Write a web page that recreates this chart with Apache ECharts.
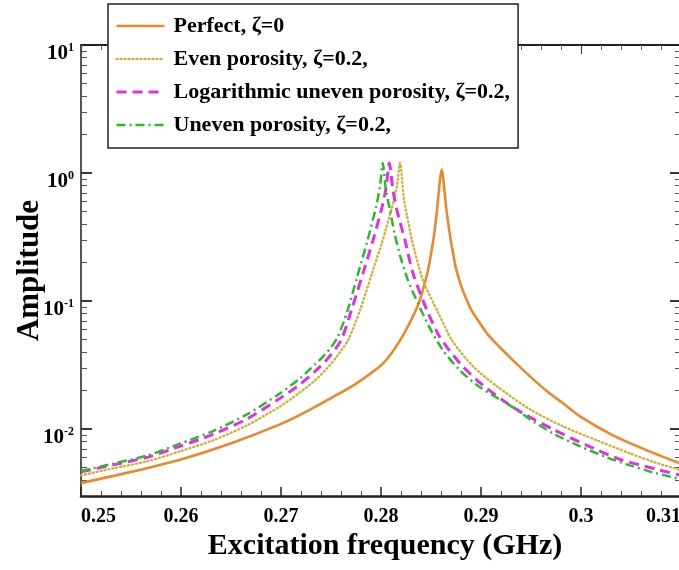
<!DOCTYPE html>
<html><head><meta charset="utf-8">
<script src="https://cdn.jsdelivr.net/npm/echarts@6/dist/echarts.min.js"></script>
<style>html,body{margin:0;padding:0;background:#fff}#c{width:679px;height:570px}</style>
</head><body><div id="c"></div>
<script>
const seriesNames = ['Perfect, ζ=0', 'Even porosity, ζ=0.2,', 'Logarithmic uneven porosity, ζ=0.2,', 'Uneven porosity, ζ=0.2,'];

const perfectFreq = [0.2500, 0.2549, 0.2599, 0.2649, 0.2699, 0.2724, 0.2749, 0.2774, 0.2799, 0.2809, 0.2819, 0.2828, 0.2837, 0.2842, 0.2847, 0.2853, 0.2856, 0.28607, 0.28655, 0.2869, 0.2872, 0.2875, 0.2880, 0.2885, 0.28905, 0.2897, 0.2906, 0.2915, 0.2932, 0.2949, 0.2966, 0.2982, 0.2999, 0.3032, 0.3066, 0.3100];
const perfectAmp = [0.00379, 0.00461, 0.00577, 0.00769, 0.01088, 0.01351, 0.01728, 0.02235, 0.0309, 0.0377, 0.0493, 0.0658, 0.0926, 0.1234, 0.1737, 0.326, 0.511, 1.063, 0.511, 0.326, 0.238, 0.180, 0.1327, 0.105, 0.0846, 0.0707, 0.0559, 0.0467, 0.0344, 0.0258, 0.0197, 0.0159, 0.01257, 0.00893, 0.00682, 0.00536];

const evenFreq = [0.2500, 0.2532, 0.2566, 0.2599, 0.2632, 0.2666, 0.2699, 0.2719, 0.2734, 0.2746, 0.2756, 0.2767, 0.2779, 0.2791, 0.2801, 0.2811, 0.2816, 0.2819, 0.2823, 0.2826, 0.2831, 0.2842, 0.2857, 0.2871, 0.2892, 0.2916, 0.2949, 0.2982, 0.3016, 0.3049, 0.3074, 0.3100];
const evenAmp = [0.00435, 0.00493, 0.00559, 0.00670, 0.00816, 0.01069, 0.01504, 0.01935, 0.0240, 0.0298, 0.0370, 0.0493, 0.0846, 0.1646, 0.287, 0.540, 0.801, 1.197, 0.612, 0.467, 0.298, 0.1451, 0.0816, 0.0493, 0.0309, 0.02156, 0.01425, 0.01050, 0.00816, 0.00646, 0.00549, 0.00476];

const logFreq = [0.2500, 0.2532, 0.2566, 0.2599, 0.2632, 0.2666, 0.2699, 0.2719, 0.2734, 0.2746, 0.2760, 0.2771, 0.2782, 0.2792, 0.2801, 0.2805, 0.28083, 0.2812, 0.2816, 0.2824, 0.2832, 0.2846, 0.2859, 0.2879, 0.2896, 0.2922, 0.2942, 0.2972, 0.3006, 0.3039, 0.3076, 0.3100];
const logAmp = [0.00463, 0.00525, 0.00601, 0.00733, 0.00909, 0.0120, 0.01737, 0.02235, 0.0282, 0.0350, 0.0493, 0.0877, 0.1646, 0.298, 0.540, 0.759, 1.197, 0.733, 0.511, 0.298, 0.1646, 0.0846, 0.0520, 0.0326, 0.0240, 0.01676, 0.01327, 0.00995, 0.00746, 0.00580, 0.00484, 0.00435];

const unevenFreq = [0.2500, 0.2532, 0.2566, 0.2599, 0.2632, 0.2666, 0.2699, 0.2719, 0.2734, 0.2746, 0.2756, 0.2766, 0.2776, 0.2786, 0.2795, 0.2799, 0.28017, 0.2805, 0.2809, 0.2814, 0.2819, 0.2827, 0.2837, 0.2849, 0.2862, 0.2879, 0.2899, 0.2932, 0.2949, 0.2972, 0.2999, 0.3026, 0.3049, 0.3072, 0.3100];
const unevenAmp = [0.00470, 0.00537, 0.00620, 0.00769, 0.00965, 0.01303, 0.0190, 0.0249, 0.0320, 0.0397, 0.0511, 0.0816, 0.1531, 0.2874, 0.540, 0.787, 1.197, 0.733, 0.511, 0.326, 0.2275, 0.1451, 0.0959, 0.0612, 0.0412, 0.0287, 0.0212, 0.01477, 0.01191, 0.00926, 0.00733, 0.00601, 0.00520, 0.00459, 0.00405];

const xMin = 0.25, xMax = 0.31, xStep = 0.01;
const yMin = 0.003, yMax = 10;
const yMajorTicks = [0.01, 0.1, 1, 10];
const yMinorMult = [2, 3, 4, 5, 6, 7, 8, 9];
const yDecades = [0.001, 0.01, 0.1, 1];

const yMinorTicks = [];
yDecades.forEach(d => yMinorMult.forEach(m => { const v = +(d * m).toPrecision(3); if (v > yMin && v < yMax) yMinorTicks.push(v); }));

const pair = (f, a) => f.map((x, i) => [x, a[i]]);
const FONT = 'Liberation Serif';

const chart = echarts.init(document.getElementById('c'), null, {renderer: 'canvas'});

const xCommon = {
  type: 'value', min: xMin, max: xMax, interval: xStep, gridIndex: 0,
  splitLine: {show: false}
};
const yCommon = {
  type: 'log', logBase: 10, min: yMin, max: yMax, gridIndex: 0,
  splitLine: {show: false}, minorTick: {show: false}, minorSplitLine: {show: false}
};
const SMOOTH = 0.25;

chart.setOption({
  animation: false,
  backgroundColor: '#fff',
  grid: {left: 81, top: 45, width: 600, height: 451, containLabel: false, outerBoundsMode: 'none'},
  legend: {
    orient: 'vertical', left: 108, top: 4,
    padding: [11, 8, 12, 7], itemGap: 11, itemWidth: 48, itemHeight: 22,
    backgroundColor: '#fff', borderColor: '#222', borderWidth: 1.5,
    itemStyle: {opacity: 0, color: 'rgba(0,0,0,0)', borderWidth: 0},
    lineStyle: {width: 'inherit', type: 'inherit', color: 'inherit'},
    data: seriesNames,
    textStyle: {fontFamily: FONT, fontWeight: 'bold', fontSize: 22, color: '#000', padding: [0, 0, 0, 4]}
  },
  xAxis: [
    Object.assign({}, xCommon, {
      position: 'bottom',
      name: 'Excitation frequency (GHz)', nameLocation: 'middle', nameGap: 35, nameMoveOverlap: false,
      nameTextStyle: {fontFamily: FONT, fontWeight: 'bold', fontSize: 30, color: '#000', padding: [0, 0, 0, 8]},
      axisLine: {show: true, lineStyle: {color: '#222', width: 2.5}},
      axisTick: {show: true, inside: true, length: 9, lineStyle: {color: '#222', width: 1.5}},
      minorTick: {show: true, splitNumber: 5, length: 5, lineStyle: {color: '#444', width: 1}},
      axisLabel: {show: true, margin: 11, fontFamily: FONT, fontWeight: 'bold', fontSize: 20, color: '#000',
        alignMinLabel: 'left', alignMaxLabel: 'right',
        formatter: v => String(+v.toFixed(2))}
    }),
    Object.assign({}, xCommon, {
      position: 'top',
      axisLine: {show: true, onZero: false, lineStyle: {color: '#222', width: 1.8}},
      axisTick: {show: true, inside: true, length: 9, lineStyle: {color: '#444', width: 1.2}},
      minorTick: {show: true, splitNumber: 5, length: 5, lineStyle: {color: '#666', width: 1}},
      axisLabel: {show: false}
    })
  ],
  yAxis: [
    Object.assign({}, yCommon, {
      position: 'left',
      name: 'Amplitude', nameLocation: 'middle', nameGap: 36, nameRotate: 90, nameMoveOverlap: false,
      nameTextStyle: {fontFamily: FONT, fontWeight: 'bold', fontSize: 31, color: '#000'},
      axisLine: {show: true, lineStyle: {color: '#555', width: 2}},
      axisTick: {show: true, inside: true, length: 11, customValues: yMajorTicks, lineStyle: {color: '#222', width: 1.8}},
      axisLabel: {
        show: true, margin: 7, customValues: yMajorTicks, padding: [16, 0, 0, 0],
        formatter: v => '{b|10}{s|' + Math.round(Math.log10(v)) + '}',
        rich: {
          b: {fontFamily: FONT, fontWeight: 'bold', fontSize: 21, color: '#000', verticalAlign: 'bottom', lineHeight: 22},
          s: {fontFamily: FONT, fontWeight: 'bold', fontSize: 12, color: '#000', verticalAlign: 'top', lineHeight: 22}
        }
      }
    }),
    Object.assign({}, yCommon, {
      position: 'left',
      axisLine: {show: false},
      axisTick: {show: true, inside: true, length: 6, customValues: yMinorTicks, lineStyle: {color: '#555', width: 1}},
      axisLabel: {show: false}
    }),
    Object.assign({}, yCommon, {
      position: 'right',
      axisLine: {show: true, onZero: false, lineStyle: {color: '#222', width: 1.5}},
      axisTick: {show: true, inside: true, length: 11, customValues: yMajorTicks, lineStyle: {color: '#222', width: 1.8}},
      axisLabel: {show: false}
    }),
    Object.assign({}, yCommon, {
      position: 'right',
      axisLine: {show: false},
      axisTick: {show: true, inside: true, length: 6, customValues: yMinorTicks, lineStyle: {color: '#555', width: 1}},
      axisLabel: {show: false}
    })
  ],
  series: [
    {name: seriesNames[0], type: 'line', xAxisIndex: 0, yAxisIndex: 0, symbol: 'none', showSymbol: false, smooth: SMOOTH,
     data: pair(perfectFreq, perfectAmp), color: '#E8892E',
     lineStyle: {color: '#E8892E', width: 2.6, type: 'solid', join: 'miter'}},
    {name: seriesNames[1], type: 'line', xAxisIndex: 0, yAxisIndex: 0, symbol: 'none', showSymbol: false, smooth: SMOOTH,
     data: pair(evenFreq, evenAmp), color: '#D0B23A',
     lineStyle: {color: '#D0B23A', width: 2.4, type: [1, 3], cap: 'round'}},
    {name: seriesNames[2], type: 'line', xAxisIndex: 0, yAxisIndex: 0, symbol: 'none', showSymbol: false, smooth: SMOOTH,
     data: pair(logFreq, logAmp), color: '#E030E0',
     lineStyle: {color: '#E030E0', width: 3, type: [10, 6]}},
    {name: seriesNames[3], type: 'line', xAxisIndex: 0, yAxisIndex: 0, symbol: 'none', showSymbol: false, smooth: SMOOTH,
     data: pair(unevenFreq, unevenAmp), color: '#2EB82E',
     lineStyle: {color: '#2EB82E', width: 2.5, type: [9, 4, 2, 4]}}
  ]
});
</script></body></html>
